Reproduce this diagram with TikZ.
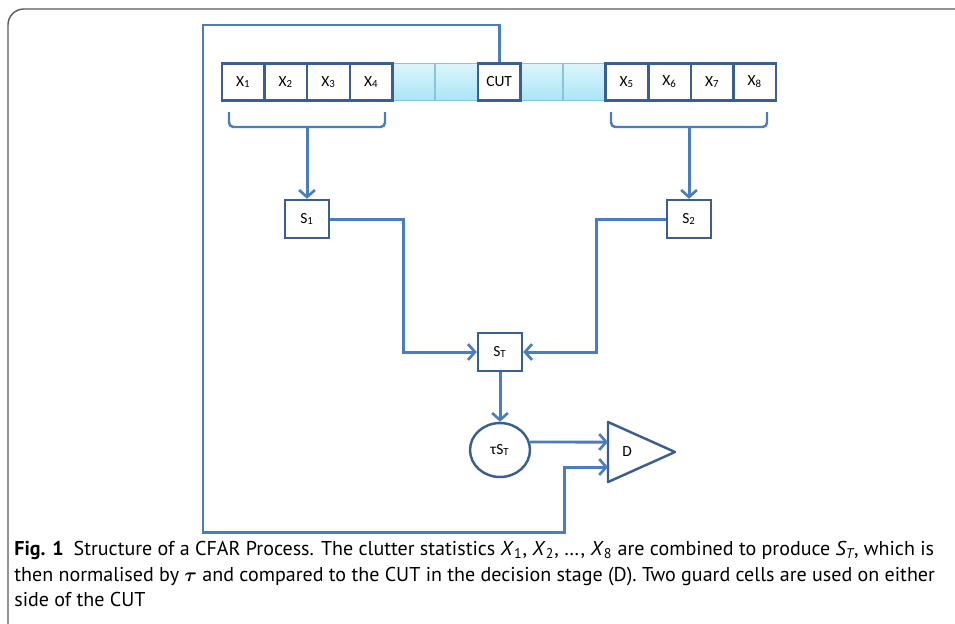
\documentclass[tikz,border=0pt]{standalone}
\usepackage{fontspec}
\setmainfont{PT Sans}
\newfontfamily\cellfont{Carlito}
\usetikzlibrary{shapes.geometric,arrows.meta}
\definecolor{boxblue}{HTML}{3A5F8E}
\definecolor{lineblue}{HTML}{4A7EBB}
\definecolor{guardedge}{HTML}{86C6D6}
\definecolor{guardtop}{HTML}{DDF5FB}
\definecolor{guardbot}{HTML}{A9E5F6}
\definecolor{framegray}{HTML}{5A5A5A}

\begin{document}
\begin{tikzpicture}[x=0.02cm,y=-0.02cm,
  cell/.style={draw=boxblue,line width=1.4pt,fill=white,minimum width=0.852cm,minimum height=0.74cm,inner sep=0pt,font=\cellfont\fontsize{8.8}{10}\selectfont},
  guard/.style={draw=guardedge,line width=0.8pt,top color=guardtop,bottom color=guardbot,minimum width=0.852cm,minimum height=0.74cm,inner sep=0pt},
  sbox/.style={draw=boxblue,line width=1.4pt,fill=white,minimum width=0.88cm,minimum height=0.76cm,inner sep=0pt,font=\cellfont\fontsize{8.8}{10}\selectfont},
  flow/.style={draw=lineblue,line width=1.7pt,-{Straight Barb[length=4pt,width=9pt,line width=1.5pt]}},
  bracket/.style={draw=lineblue,line width=1.4pt,rounded corners=2.5pt}]
\clip (0,0) rectangle (955,623);
\draw[framegray,line width=0.8pt,rounded corners=9pt] (8,700) -- (8,9) -- (1000,9);

\node[guard] (g1) at (413.8,82) {};
\node[guard] (g2) at (456.4,82) {};
\node[guard] (g3) at (541.7,82) {};
\node[guard] (g4) at (584.3,82) {};

\node[cell] (x1) at (243.3,82) {X\textsubscript{1}};
\node[cell] (x2) at (285.9,82) {X\textsubscript{2}};
\node[cell] (x3) at (328.5,82) {X\textsubscript{3}};
\node[cell] (x4) at (371.2,82) {X\textsubscript{4}};
\node[cell] (cut) at (499.1,82) {CUT};
\node[cell] (x5) at (626.9,82) {X\textsubscript{5}};
\node[cell] (x6) at (669.6,82) {X\textsubscript{6}};
\node[cell] (x7) at (712.2,82) {X\textsubscript{7}};
\node[cell] (x8) at (754.8,82) {X\textsubscript{8}};

\draw[bracket] (229,112) |- (385,127) -- (385,112);
\draw[bracket] (611,112) |- (767,127) -- (767,112);
\coordinate (b1) at (307,127);
\coordinate (b2) at (689,127);

\node[sbox] (s1) at (307,219) {S\textsubscript{1}};
\node[sbox] (s2) at (689,219) {S\textsubscript{2}};
\node[sbox] (st) at (500,352) {S\textsubscript{T}};
\node[draw=boxblue,line width=1.4pt,ellipse,minimum width=1.2cm,minimum height=1.08cm,inner sep=0pt,font=\cellfont\fontsize{8.8}{10}\selectfont] (tst) at (500,450) {τS\textsubscript{T}};

\draw[boxblue,line width=1.4pt,line join=round] (608,422) -- (675,452) -- (608,482) -- cycle;
\node[font=\cellfont\fontsize{8.8}{10}\selectfont] (d) at (627,452) {D};
\coordinate (d1) at (608,442);
\coordinate (d2) at (608,467);

\coordinate (c1) at (403,219);
\coordinate (c2) at (596,219);
\coordinate (f1) at (203,25);
\coordinate (f2) at (564,532);

\path[flow] (b1) -- (s1.north);
\path[flow] (b2) -- (s2.north);
\path[flow] (s1.east) -- (c1) |- (st.west);
\path[flow] (s2.west) -- (c2) |- (st.east);
\path[flow] (st.south) -- (tst.north);
\path[flow] (tst.15) -- (d1);
\path[flow] (cut.north) |- (f1) |- (f2) |- (d2);

\node[anchor=north west,align=left,inner sep=0pt,font=\fontsize{11.4}{14.5}\selectfont] (cap) at (14,541)
 {\textbf{Fig. 1}\enspace Structure of a CFAR Process. The clutter statistics \textit{X}\textsubscript{1}, \textit{X}\textsubscript{2}, \dots, \textit{X}\textsubscript{8} are combined to produce \textit{S\textsubscript{T}}, which is\\
 then normalised by {\boldmath$\tau$} and compared to the CUT in the decision stage (D). Two guard cells are used on either\\
 side of the CUT};
\end{tikzpicture}
\end{document}
